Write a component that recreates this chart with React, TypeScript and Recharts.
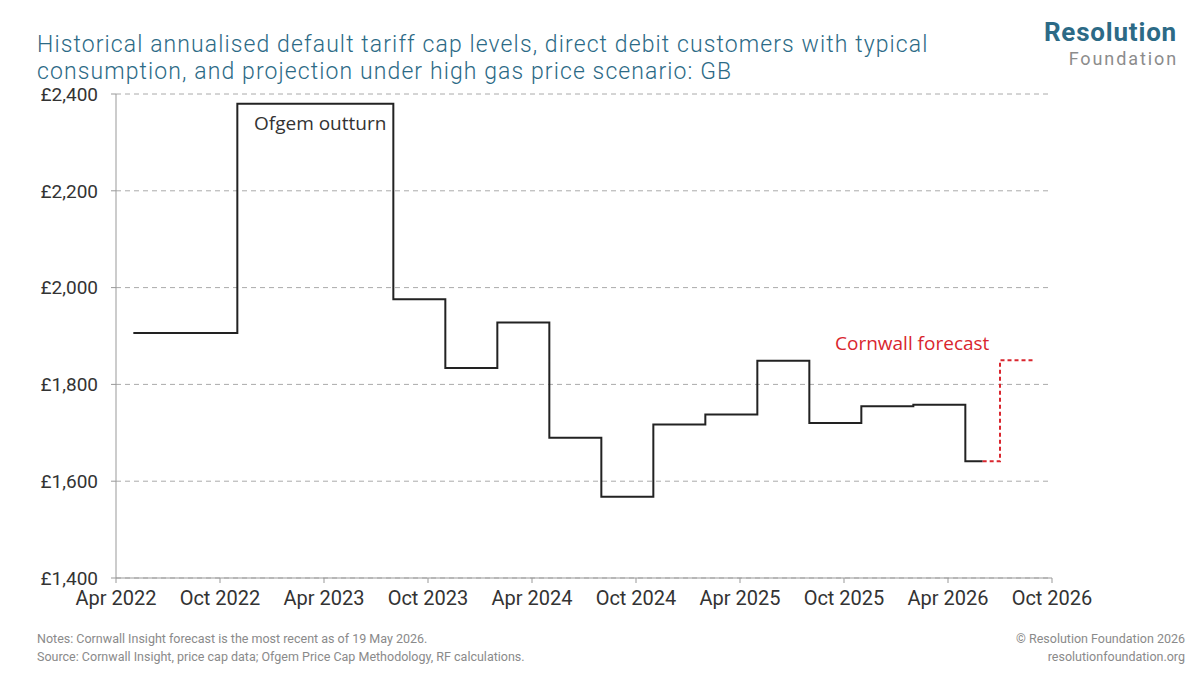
import React from "react";
import { CartesianGrid, Line, LineChart, XAxis, YAxis } from "recharts";

// months counted from Apr 2022 (= 0)
const ofgemMonths = [1, 7, 16, 19, 22, 25, 28, 31, 34, 37, 40, 43, 46, 49, 50];
const ofgemValues = [1906, 2380, 1976, 1834, 1928, 1690, 1568, 1717, 1738, 1849, 1720, 1755, 1758, 1641, 1641];

const forecastMonths = [50, 51, 53];
const forecastValues = [1641, 1850, 1850];

const xTicks = [0, 6, 12, 18, 24, 30, 36, 42, 48, 54];
const xLabels = [
	"Apr 2022",
	"Oct 2022",
	"Apr 2023",
	"Oct 2023",
	"Apr 2024",
	"Oct 2024",
	"Apr 2025",
	"Oct 2025",
	"Apr 2026",
	"Oct 2026",
];
const yTicks = [1400, 1600, 1800, 2000, 2200, 2400];

const ofgemData = ofgemMonths.map((m, i) => ({ m, value: ofgemValues[i] }));
const forecastData = forecastMonths.map((m, i) => ({ m, value: forecastValues[i] }));

const TEAL = "#2c6a86";
const FONT = "Roboto, 'Liberation Sans', sans-serif";

const titleLine: React.CSSProperties = {
	position: "absolute",
	left: 37,
	fontSize: 23,
	letterSpacing: 1.1,
	color: TEAL,
	fontWeight: 300,
	whiteSpace: "nowrap",
};

export default function App() {
	return (
		<div
			style={{
				position: "absolute",
				left: 0,
				top: 0,
				width: 1200,
				height: 675,
				background: "#fff",
				fontFamily: FONT,
				overflow: "hidden",
			}}
		>
			<div style={{ ...titleLine, top: 30.5 }}>
				Historical annualised default tariff cap levels, direct debit customers with typical
			</div>
			<div style={{ ...titleLine, top: 57.5 }}>
				consumption, and projection under high gas price scenario: GB
			</div>

			<div
				style={{
					position: "absolute",
					right: 23,
					top: 17,
					fontSize: 26,
					fontWeight: 700,
					color: TEAL,
					letterSpacing: 0.8,
				}}
			>
				Resolution
			</div>
			<div
				style={{
					position: "absolute",
					right: 22,
					top: 47.5,
					fontSize: 18,
					color: "#8c8c8c",
					letterSpacing: 1.9,
				}}
			>
				Foundation
			</div>

			<div style={{ position: "absolute", left: 0, top: 0 }}>
				<LineChart width={1200} height={675} margin={{ top: 94, right: 148, bottom: 57, left: 36 }}>
					<CartesianGrid vertical={false} stroke="#aaaaaa" strokeDasharray="5 4" />
					<XAxis
						type="number"
						dataKey="m"
						domain={[0, 54]}
						ticks={xTicks}
						tickFormatter={(v) => xLabels[xTicks.indexOf(v)]}
						stroke="#999"
						tickSize={5}
						tickMargin={8}
						height={40}
						tick={{ fill: "#333", fontSize: 20 }}
						allowDuplicatedCategory={false}
					/>
					<YAxis
						type="number"
						domain={[1400, 2400]}
						ticks={yTicks}
						tickFormatter={(v) => `£${v.toLocaleString("en-GB")}`}
						stroke="#999"
						tickSize={5}
						tickMargin={13}
						width={80}
						tick={{ fill: "#333", fontSize: 19 }}
						axisLine={{ stroke: "#999" }}
					/>
					<Line
						data={ofgemData}
						dataKey="value"
						type="stepAfter"
						stroke="#222"
						strokeWidth={2}
						dot={false}
						isAnimationActive={false}
					/>
					<Line
						data={forecastData}
						dataKey="value"
						type="stepAfter"
						stroke="#d9262e"
						strokeWidth={2}
						strokeDasharray="4 3"
						dot={false}
						isAnimationActive={false}
					/>
				</LineChart>
			</div>

			<div
				style={{
					position: "absolute",
					left: 254,
					top: 110,
					fontSize: 19,
					color: "#333",
					fontFamily: "'Open Sans', sans-serif",
				}}
			>
				Ofgem outturn
			</div>
			<div
				style={{
					position: "absolute",
					left: 835,
					top: 330,
					fontSize: 19,
					color: "#d9262e",
					fontFamily: "'Open Sans', sans-serif",
				}}
			>
				Cornwall forecast
			</div>

			<div
				style={{
					position: "absolute",
					left: 37,
					top: 630,
					fontSize: 12.5,
					lineHeight: "18px",
					color: "#8a8a8a",
				}}
			>
				Notes: Cornwall Insight forecast is the most recent as of 19 May 2026.
				<br />
				Source: Cornwall Insight, price cap data; Ofgem Price Cap Methodology, RF calculations.
			</div>
			<div
				style={{
					position: "absolute",
					right: 15,
					top: 630,
					fontSize: 12.5,
					lineHeight: "18px",
					color: "#8a8a8a",
					textAlign: "right",
				}}
			>
				© Resolution Foundation 2026
				<br />
				resolutionfoundation.org
			</div>
		</div>
	);
}
